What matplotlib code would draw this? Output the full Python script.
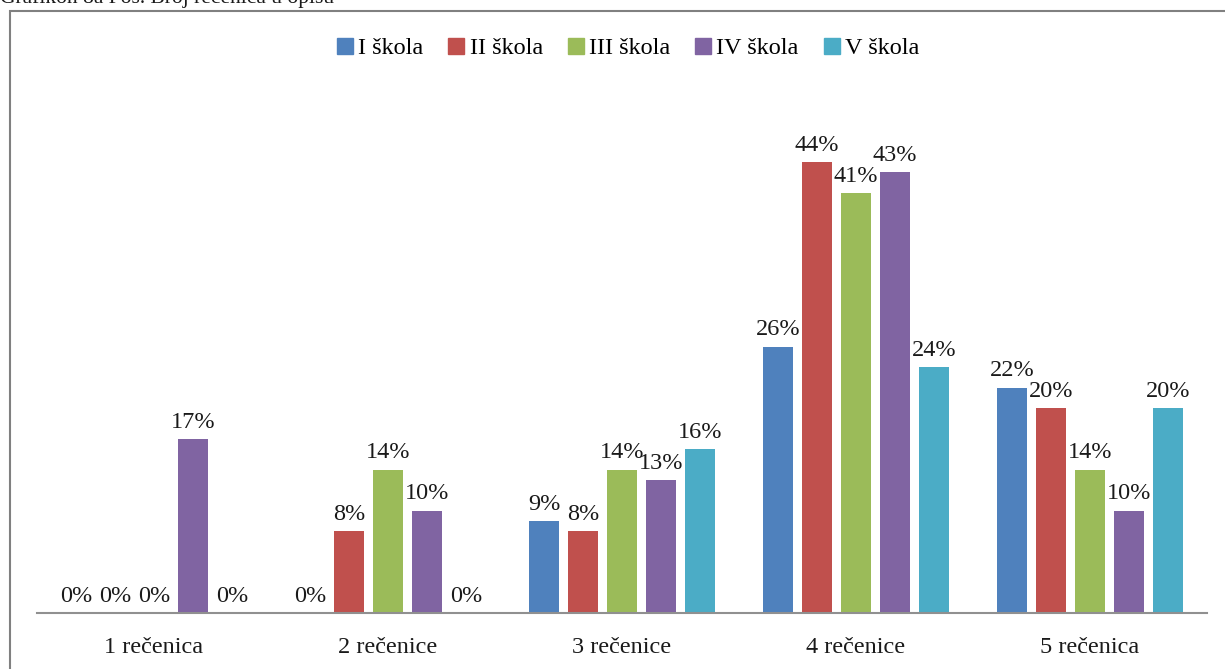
import matplotlib.pyplot as plt
from matplotlib.patches import Rectangle
from matplotlib.lines import Line2D
import numpy as np

plt.rcParams['font.family'] = ['Liberation Serif', 'DejaVu Serif']

categories = ["1 rečenica", "2 rečenice", "3 rečenice", "4 rečenice", "5 rečenica"]
series_names = ["I škola", "II škola", "III škola", "IV škola", "V škola"]
skola_1 = [0, 0, 9, 26, 22]
skola_2 = [0, 8, 8, 44, 20]
skola_3 = [0, 14, 14, 41, 14]
skola_4 = [17, 10, 13, 43, 10]
skola_5 = [0, 0, 16, 24, 20]
colors = ["#4F81BD", "#C0504D", "#9BBB59", "#8064A2", "#4BACC6"]

all_series = [skola_1, skola_2, skola_3, skola_4, skola_5]

fig = plt.figure(figsize=(12.25, 6.69), dpi=100)
ax = fig.add_axes([0.0302, 0.0837, 0.9551, 0.766])

# outer chart frame (partly cut off by the page)
fig.patches.append(Rectangle((10 / 1225, -0.1), 1.2, 1.1 - 11 / 669,
                             transform=fig.transFigure, fill=False,
                             edgecolor="#808080", linewidth=1.5))
fig.text(0.0, 1 - 3 / 669, "Grafikon 8a Pos. Broj rečenica u opisu",
         fontsize=15.5, va="baseline", ha="left", color="#1a1a1a")

x = np.arange(len(categories))
pitch = 0.1667
width = 0.132
for i, vals in enumerate(all_series):
    pos = x + (i - 2) * pitch
    ax.bar(pos, vals, width=width, color=colors[i], zorder=2)
    for p, v in zip(pos, vals):
        ax.text(p, v + 0.6, f"{v}%", ha="center", va="bottom", fontsize=17.5,
                color="#1a1a1a")

ax.set_xlim(-0.5, 4.5)
ax.set_ylim(0, 50)
ax.set_yticks([])
ax.set_xticks(x)
ax.set_xticklabels(categories, fontsize=17.5, color="#1a1a1a")
ax.tick_params(axis="x", length=0, pad=17)
for s in ["top", "right", "left"]:
    ax.spines[s].set_visible(False)
ax.spines["bottom"].set_color("#909090")
ax.spines["bottom"].set_linewidth(1.5)

handles = [Line2D([], [], marker="s", linestyle="", markersize=11,
                  color=c) for c in colors]
fig.legend(handles, series_names, loc="center", bbox_to_anchor=(0.511, 1 - 48 / 669),
           ncol=5, frameon=False, fontsize=17.5, handletextpad=0.05,
           columnspacing=0.85, handlelength=1.0)

fig.savefig("out.png", dpi=100)
